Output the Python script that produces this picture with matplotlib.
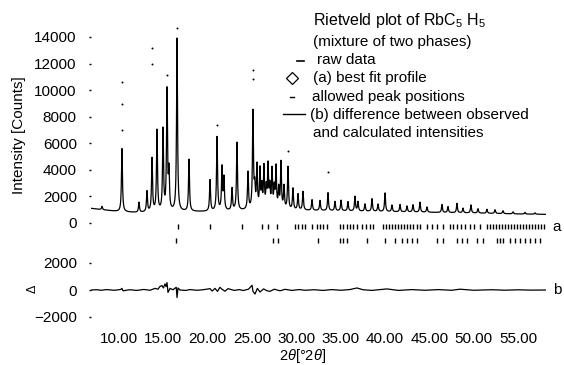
import numpy as np
import matplotlib
matplotlib.use("Agg")
import matplotlib.pyplot as plt

plt.rcParams['font.family'] = ['Liberation Sans', 'DejaVu Sans']
plt.rcParams['mathtext.fontset'] = 'custom'
plt.rcParams['mathtext.rm'] = 'Liberation Sans'
plt.rcParams['mathtext.it'] = 'Liberation Sans:italic'

# ---------------- data ----------------
theta_min, theta_max = 6.84, 58.14

# background of the pattern
bg_theta = [6.84, 8.0, 10.0, 12.0, 14.0, 17.0, 20.0, 25.0, 30.0, 35.0, 40.0, 45.0, 50.0, 55.0, 58.14]
bg_counts = [1100, 1000, 850, 780, 800, 850, 850, 950, 950, 900, 850, 800, 750, 680, 650]

# reflections: position (deg 2theta) and height above background (counts)
peak_pos = [8.08, 10.33, 12.25, 13.15, 13.72, 14.28, 14.96, 15.41, 15.63, 16.54,
            17.89, 20.26, 21.05, 21.61, 21.83, 22.74, 23.30, 24.54, 25.10, 25.30,
            25.55, 25.89, 26.10, 26.34, 26.60, 26.80, 27.00, 27.25, 27.50, 27.70,
            28.00, 28.26, 28.60, 29.05, 29.61, 30.18, 30.74, 31.76, 32.66, 33.56,
            34.35, 35.03, 35.81, 36.60, 36.94, 37.73, 38.52, 39.20, 39.99, 40.77,
            41.68, 42.47, 43.14, 43.93, 44.72, 46.41, 47.09, 48.10, 48.78, 49.68,
            50.47, 51.48, 52.39, 53.29, 54.42, 55.77, 56.90]
peak_height = [250, 4750, 750, 1550, 4000, 6100, 6100, 9000, 2800, 13000,
               3900, 2350, 5550, 3200, 2400, 1650, 5100, 2800, 7300, 1500,
               3200, 2900, 1600, 3100, 1500, 3200, 1600, 2900, 1500, 3100,
               1500, 3500, 1700, 3200, 1600, 1200, 1400, 800, 750, 1350,
               700, 800, 700, 1100, 700, 550, 950, 550, 1400, 500,
               550, 450, 550, 750, 400, 600, 450, 700, 350, 600,
               330, 300, 280, 220, 150, 120, 100]

# scattered raw-data points above the strongest reflections
raw_theta = [10.33, 10.33, 10.33, 13.72, 13.72, 15.41, 16.54, 21.05, 25.10, 25.10, 33.56, 29.05]
raw_counts = [7000, 8950, 10600, 12000, 13200, 11100, 14700, 7400, 10800, 11500, 3800, 5400]

# allowed peak positions, phase a and phase b
ticks_a = [16.65, 20.26, 23.86, 26.12, 26.80, 27.81, 29.84, 30.18, 30.63, 30.97,
           31.76, 32.32, 32.66, 33.00, 33.45, 34.91, 35.25, 35.70, 36.04, 36.38,
           36.83, 37.39, 37.84, 38.29, 38.63, 39.76, 40.10, 40.44, 40.77, 41.11,
           41.45, 41.79, 42.13, 42.47, 42.80, 43.14, 43.59, 43.93, 44.72, 45.28,
           45.85, 46.52, 47.31, 47.65, 48.10, 48.55, 49.00, 49.57, 50.02, 50.69,
           51.48, 51.82, 52.16, 52.50, 52.84, 53.18, 53.52, 53.85, 54.19, 54.53,
           54.87, 55.21, 55.55, 55.88, 56.22, 56.56, 56.90, 57.23, 57.57, 57.91]
ticks_b = [16.42, 27.36, 27.92, 32.43, 34.91, 35.25, 35.70, 37.95, 39.99, 41.11,
           41.90, 42.47, 43.03, 43.59, 45.85, 46.52, 48.10, 48.67, 49.23, 50.36,
           51.03, 52.61, 52.95, 53.29, 54.08, 54.64, 55.21, 55.77, 56.33, 56.90,
           57.46]

# difference curve (observed - calculated)
diff_theta = [6.84, 7.5, 8.0, 8.6, 9.5, 10.2, 10.33, 10.45, 11.2, 12.0, 12.8, 13.5,
              14.06, 14.39, 14.6, 14.84, 15.0, 15.18, 15.3, 15.41, 15.52, 15.75,
              16.08, 16.45, 16.54, 16.65, 16.87, 17.5, 18.0, 18.8, 19.5, 20.26,
              20.5, 20.82, 21.1, 21.38, 21.6, 21.95, 22.28, 23.0, 23.6, 24.0,
              24.6, 25.0, 25.1, 25.33, 25.6, 25.89, 26.3, 26.7, 27.02, 27.5,
              28.15, 28.7, 29.5, 30.3, 31.0, 32.0, 33.0, 34.0, 35.0, 36.0,
              36.83, 37.5, 38.5, 40.21, 41.5, 43.0, 44.5, 46.0, 47.5, 48.44,
              50.0, 52.0, 53.5, 55.0, 56.5, 58.14]
diff_counts = [0, 20, -20, 30, -20, 40, 120, -60, 20, -30, 40, -20,
               120, 60, 250, 330, 150, 450, 250, 550, -180, 120,
               20, 200, -560, 150, 0, -30, 30, -20, 20, 100,
               -80, 120, -100, 200, 60, -90, 100, -30, 30, -40,
               60, 350, -100, -300, 120, -150, 80, -60, -100, 60,
               -60, 50, -30, 30, -20, 20, -30, 30, -20, 30,
               150, 20, -30, 80, -30, 30, -20, 30, -20, 60,
               -20, 20, -15, 15, -10, 0]

# ---------------- model profile built from the reflections ----------------
tt = np.arange(theta_min, theta_max, 0.005)
gamma = 0.065
profile = np.interp(tt, bg_theta, bg_counts)
for p, h in zip(peak_pos, peak_height):
    profile = profile + h * gamma**2 / ((tt - p)**2 + gamma**2)

# ---------------- figure ----------------
W, H = 564, 365
fig = plt.figure(figsize=(W / 100, H / 100), dpi=100)

left = 91 / W
width = (546 - 91) / W
# top panel: 0 at y=223 px, 13.29 px per 1000 counts
top_lo, top_hi = -1800, 15000
s_top = 0.01329
y_top_px = 223 - top_hi * s_top
y_bot_px = 223 - top_lo * s_top
ax1 = fig.add_axes([left, 1 - y_bot_px / H, width, (y_bot_px - y_top_px) / H])
# bottom panel: 0 at y=290 px, 13.5 px per 1000
bot_lo, bot_hi = -2500, 2500
s_bot = 0.0135
yb_top = 290 - bot_hi * s_bot
yb_bot = 290 - bot_lo * s_bot
ax2 = fig.add_axes([left, 1 - yb_bot / H, width, (yb_bot - yb_top) / H])

ax1.plot(tt, profile, color='black', lw=0.9)
ax1.scatter(raw_theta, raw_counts, s=2, color='black', lw=0)
ax1.vlines(ticks_a, -450, -80, color='black', lw=1.0)
ax1.vlines(ticks_b, -1500, -1120, color='black', lw=1.0)
ax1.set_xlim(theta_min, theta_max)
ax1.set_ylim(top_lo, top_hi)
ax1.set_yticks(np.arange(0, 14001, 2000))
ax1.set_xticks([])
ax1.set_ylabel('Intensity [Counts]', fontsize=11, labelpad=6)
ax1.text(1.015, -300, 'a', transform=ax1.get_yaxis_transform(), fontsize=11,
         va='center', ha='left')

ax2.plot(diff_theta, diff_counts, color='black', lw=0.9)
ax2.set_xlim(theta_min, theta_max)
ax2.set_ylim(bot_lo, bot_hi)
ax2.set_yticks([-2000, 0, 2000])
ax2.set_yticklabels(['\u22122000', '0', '2000'])
xt = np.arange(10, 56, 5)
ax2.set_xticks(xt)
ax2.set_xticklabels(['%.2f' % v for v in xt])
ax2.text(1.015, 0, 'b', transform=ax2.get_yaxis_transform(), fontsize=11,
         va='center', ha='left')

for ax in (ax1, ax2):
    for sp in ax.spines.values():
        sp.set_visible(False)
    ax.tick_params(axis='y', length=1.2, width=1.0, pad=9, labelsize=11)
    ax.tick_params(axis='x', length=0, pad=6, labelsize=11)
    ax.patch.set_alpha(0)

def fy(y):
    return 1 - y / H

fig.text(33 / W, fy(289), r'$\mathit{\Delta}$', fontsize=9, rotation=90,
         ha='center', va='center')
fig.text(303 / W, fy(356), r'2$\mathit{\theta}$[°2$\mathit{\theta}$]', fontsize=10.5,
         ha='center', va='center')

# legend block
fs = 11
fig.text(313 / W, fy(21), r'Rietveld plot of RbC$_5$ H$_5$', fontsize=11.5, va='center')
fig.text(313 / W, fy(42), '(mixture of two phases)', fontsize=fs, va='center')
fig.text(317 / W, fy(60), 'raw data', fontsize=fs, va='center')
fig.text(313 / W, fy(78), '(a) best fit profile', fontsize=fs, va='center')
fig.text(312 / W, fy(97), 'allowed peak positions', fontsize=fs, va='center')
fig.text(310 / W, fy(115), '(b) difference between observed', fontsize=fs, va='center')
fig.text(313 / W, fy(133), 'and calculated intensities', fontsize=fs, va='center')
fig.add_artist(plt.Line2D([297 / W, 304 / W], [fy(61), fy(61)], color='black', lw=1.2))
fig.add_artist(plt.Line2D([292 / W], [fy(78)], marker='D', markersize=6,
                          markerfacecolor='white', markeredgecolor='black', mew=0.9))
fig.add_artist(plt.Line2D([290 / W, 294 / W], [fy(97), fy(97)], color='black', lw=1.0))
fig.add_artist(plt.Line2D([283 / W, 305 / W], [fy(114), fy(114)], color='black', lw=1.0))

fig.savefig('out.png', dpi=100)
